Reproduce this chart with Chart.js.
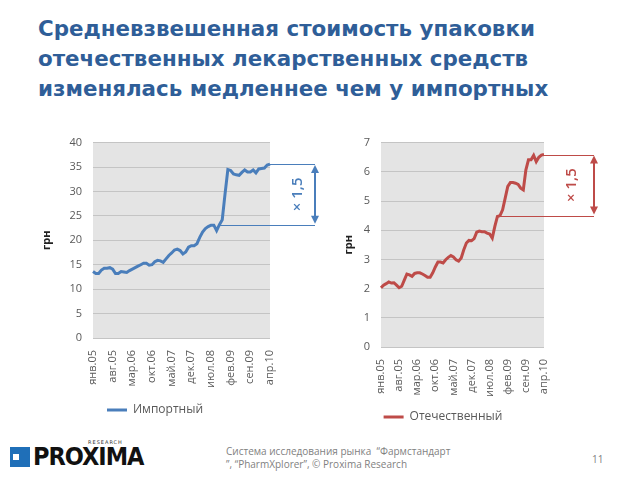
<!DOCTYPE html>
<html>
<head>
<meta charset="utf-8">
<script src="https://cdn.jsdelivr.net/npm/chart.js@4.4.0/dist/chart.umd.min.js"></script>
<style>
  html, body { margin: 0; padding: 0; background: #fff; }
  #page { position: relative; width: 640px; height: 480px; overflow: hidden; font-family: "Open Sans", sans-serif; }
  #title { position: absolute; left: 38px; top: 14px; margin: 0; font: bold 21.4px "DejaVu Sans", sans-serif; line-height: 30px; color: #2f5e98; }
  #chartLeft { position: absolute; left: 40px; top: 125px; }
  #chartRight { position: absolute; left: 342px; top: 125px; }
  #logo { position: absolute; left: 10px; top: 441px; width: 120px; height: 30px; }
  #logo .icon { position: absolute; left: 0; top: 6px; width: 20px; height: 20px; background: #1f6fb8; }
  #logo .icon i { position: absolute; left: 3px; top: 7px; width: 6px; height: 6px; background: #fff; }
  #logo .name { position: absolute; left: 23px; top: 1px; font: bold 25px "DejaVu Sans Condensed", "Liberation Sans Narrow", sans-serif; letter-spacing: -1px; color: #111; }
  #logo .sub { position: absolute; left: 78px; top: -2px; font: 5px "DejaVu Sans", sans-serif; letter-spacing: 1px; color: #333; }
  #source { position: absolute; left: 226px; top: 445px; font: 10px "Open Sans", sans-serif; line-height: 13px; color: #7f7f7f; }
  #pagenum { position: absolute; left: 592px; top: 452px; font: 10px "Open Sans", sans-serif; color: #7f7f7f; }
</style>
</head>
<body>
<div id="page">
  <h1 id="title">Средневзвешенная стоимость упаковки<br>отечественных лекарственных средств<br>изменялась медленнее чем у импортных</h1>
  <canvas id="chartLeft" width="290" height="301"></canvas>
  <canvas id="chartRight" width="270" height="308"></canvas>
  <div id="logo"><div class="icon"><i></i></div><div class="sub">RESEARCH</div><div class="name">PROXIMA</div></div>
  <div id="source">Система исследования рынка &nbsp;“Фармстандарт<br>”, “PharmXplorer”, © Proxima Research</div>
  <div id="pagenum">11</div>
</div>
<script>
// months Jan 2005 .. Apr 2010
const monthNames = ['янв', 'фев', 'мар', 'апр', 'май', 'июн', 'июл', 'авг', 'сен', 'окт', 'ноя', 'дек'];
const months = [];
for (let yr = 5; yr <= 10; yr++) {
    for (let m = 0; m < 12; m++) {
        if (yr === 10 && m > 3) break;
        months.push(monthNames[m] + '.' + (yr < 10 ? '0' + yr : yr));
    }
}

const importValues = [
    13.6, 13.2, 13.2, 13.9, 14.3, 14.3, 14.4, 14.1, 13.2, 13.2,
    13.6, 13.5, 13.4, 13.8, 14.1, 14.4, 14.7, 15.0, 15.3, 15.3,
    14.9, 15.0, 15.6, 15.9, 15.8, 15.5, 16.2, 16.9, 17.4, 18.0,
    18.2, 17.9, 17.2, 17.6, 18.6, 18.9, 18.9, 19.3, 20.6, 21.7,
    22.4, 22.8, 23.1, 23.1, 22.0, 23.2, 24.2, 29.5, 34.5, 34.3,
    33.6, 33.4, 33.3, 33.9, 34.4, 34.0, 34.0, 34.4, 33.8, 34.6,
    34.7, 34.8, 35.4, 35.6
];

const domesticValues = [
    2.03, 2.12, 2.17, 2.23, 2.19, 2.20, 2.12, 2.03, 2.08, 2.29,
    2.50, 2.47, 2.42, 2.52, 2.54, 2.54, 2.50, 2.45, 2.39, 2.39,
    2.54, 2.74, 2.91, 2.91, 2.88, 2.99, 3.07, 3.13, 3.08, 2.99,
    2.94, 3.05, 3.33, 3.56, 3.65, 3.64, 3.71, 3.93, 3.97, 3.95,
    3.95, 3.90, 3.87, 3.73, 4.13, 4.47, 4.50, 4.70, 5.10, 5.50,
    5.63, 5.63, 5.61, 5.57, 5.44, 5.38, 6.07, 6.41, 6.41, 6.56,
    6.35, 6.50, 6.57, 6.59
];

const tickColor = '#595959';
const tickFont = { family: 'Open Sans', size: 11 };

const plotBackground = {
    id: 'plotBackground',
    beforeDraw(chart) {
        const { ctx, chartArea } = chart;
        ctx.save();
        ctx.fillStyle = '#e4e4e4';
        ctx.fillRect(chartArea.left, chartArea.top, chartArea.right - chartArea.left, chartArea.bottom - chartArea.top);
        ctx.restore();
    }
};

// "x 1,5" bracket to the right of the plot
const bracket = {
    id: 'bracket',
    afterDraw(chart, args, opts) {
        if (!opts || opts.baseIndex === undefined) return;
        const { ctx, chartArea, scales } = chart;
        const data = chart.data.datasets[0].data;
        const last = data.length - 1;
        const x0 = scales.x.getPixelForValue(opts.baseIndex);
        const y0 = scales.y.getPixelForValue(data[opts.baseIndex]);
        const x1 = scales.x.getPixelForValue(last);
        const y1 = scales.y.getPixelForValue(data[last]);
        const bx = chartArea.right + opts.offset;
        ctx.save();
        ctx.strokeStyle = opts.color;
        ctx.fillStyle = opts.color;
        ctx.lineWidth = 1;
        ctx.beginPath();
        ctx.moveTo(x0, Math.round(y0) + 0.5); ctx.lineTo(bx, Math.round(y0) + 0.5);
        ctx.moveTo(x1, Math.round(y1) + 0.5); ctx.lineTo(bx, Math.round(y1) + 0.5);
        ctx.stroke();
        ctx.lineWidth = 2;
        ctx.beginPath();
        ctx.moveTo(bx, y1 + 6); ctx.lineTo(bx, y0 - 6);
        ctx.stroke();
        ctx.beginPath();
        ctx.moveTo(bx, y1 + 1); ctx.lineTo(bx - 4, y1 + 9); ctx.lineTo(bx + 4, y1 + 9); ctx.closePath();
        ctx.moveTo(bx, y0 - 1); ctx.lineTo(bx - 4, y0 - 9); ctx.lineTo(bx + 4, y0 - 9); ctx.closePath();
        ctx.fill();
        ctx.translate(chartArea.right + opts.textOffset, (y0 + y1) / 2);
        ctx.rotate(-Math.PI / 2);
        ctx.font = '600 15px "Open Sans"';
        ctx.textAlign = 'center';
        ctx.textBaseline = 'middle';
        ctx.fillText('× 1,5', 0, 0);
        ctx.restore();
    }
};

function makeChart(id, values, label, color, yMax, yStep, yWidth, xHeight, padTop, padRight, br) {
    const ctx = document.getElementById(id).getContext('2d');
    return new Chart(ctx, {
        type: 'line',
        data: {
            labels: months,
            datasets: [{
                label: label,
                data: values,
                borderColor: color,
                backgroundColor: color,
                borderWidth: 3,
                pointRadius: 0,
                pointStyle: 'line',
                tension: 0
            }]
        },
        options: {
            responsive: false,
            animation: false,
            layout: { padding: { top: padTop, right: padRight, left: 0, bottom: 0 } },
            scales: {
                x: {
                    grid: { display: false },
                    border: { display: false },
                    afterFit: function(scale) { scale.height = xHeight; },
                    ticks: {
                        autoSkip: false,
                        minRotation: 90,
                        maxRotation: 90,
                        padding: 4,
                        color: tickColor,
                        font: tickFont,
                        callback: function(v, i) { return i % 7 === 0 ? months[i] : ''; }
                    }
                },
                y: {
                    min: 0,
                    max: yMax,
                    afterFit: function(scale) { scale.width = yWidth; },
                    border: { display: false },
                    grid: { color: '#c4c4c4', drawTicks: false },
                    ticks: { stepSize: yStep, padding: 11, color: tickColor, font: tickFont },
                    title: { display: true, text: 'грн', color: '#222', font: { family: 'Open Sans', size: 11, weight: 'bold' }, padding: 0 }
                }
            },
            plugins: {
                legend: {
                    position: 'bottom',
                    labels: { usePointStyle: true, pointStyleWidth: 20, boxHeight: 12, padding: 8, color: tickColor, font: { family: 'Open Sans', size: 12 } }
                },
                tooltip: { enabled: false },
                bracket: br
            }
        },
        plugins: [plotBackground, bracket]
    });
}

makeChart('chartLeft', importValues, 'Импортный', '#4a7ebb', 40, 5, 53, 58, 17, 60,
    { baseIndex: 45, color: '#4a7ebb', offset: 45, textOffset: 28 });
makeChart('chartRight', domesticValues, 'Отечественный', '#be4b48', 7, 1, 39, 56, 16, 68,
    { baseIndex: 46, color: '#be4b48', offset: 50, textOffset: 28 });
</script>
</body>
</html>
